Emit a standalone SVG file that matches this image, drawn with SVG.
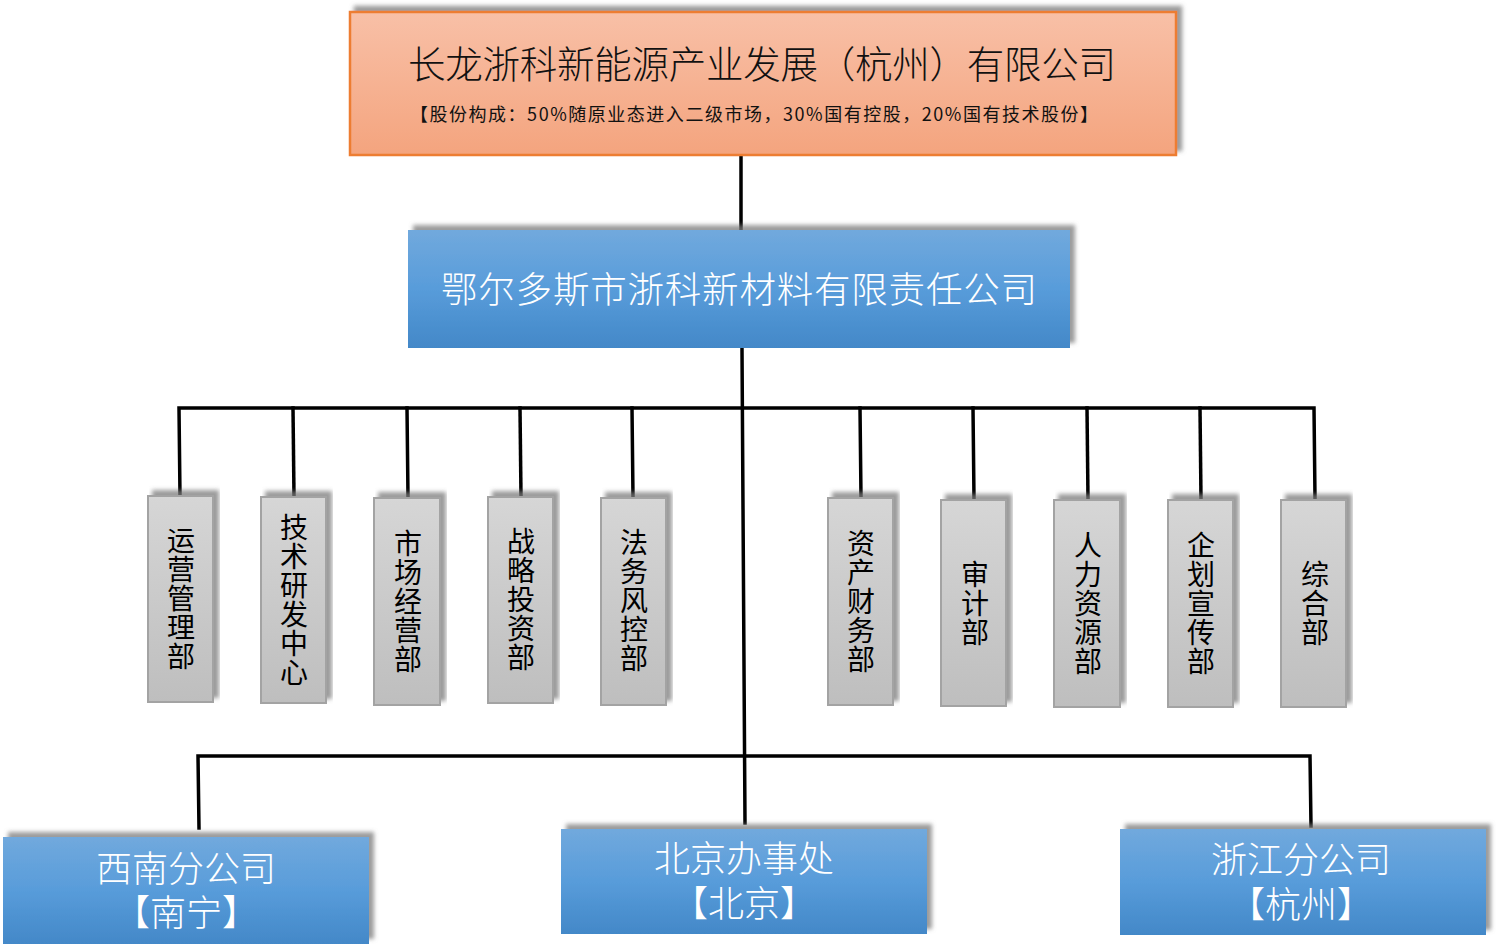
<svg xmlns="http://www.w3.org/2000/svg" width="1498" height="948" viewBox="0 0 1498 948">
<defs>
<linearGradient id="gOrange" x1="0" y1="0" x2="0" y2="1"><stop offset="0" stop-color="#F8C0A7"/><stop offset="1" stop-color="#F4A47E"/></linearGradient>
<linearGradient id="gBlue" x1="0" y1="0" x2="0" y2="1"><stop offset="0" stop-color="#71A9DD"/><stop offset="0.5" stop-color="#589CDA"/><stop offset="1" stop-color="#4388C8"/></linearGradient>
<linearGradient id="gGray" x1="0" y1="0" x2="0" y2="1"><stop offset="0" stop-color="#D6D6D6"/><stop offset="1" stop-color="#BEBEBE"/></linearGradient>
<filter id="sh" x="-5%" y="-10%" width="115%" height="125%">
<feGaussianBlur in="SourceAlpha" stdDeviation="2"/>
<feOffset dx="5" dy="-5" result="o"/>
<feFlood flood-color="#7a7a7a" flood-opacity="0.75"/>
<feComposite in2="o" operator="in"/>
<feMerge><feMergeNode/><feMergeNode in="SourceGraphic"/></feMerge>
</filter>
</defs>
<style>
.cn{fill:none;stroke:#000;stroke-width:3.5;stroke-linecap:square}
.dept{fill:url(#gGray);stroke:#A3A3A3;stroke-width:2}
.blue{fill:url(#gBlue)}
.dt{font-family:"Noto Sans CJK SC","Noto Sans",sans-serif;font-size:28px;fill:#000;text-anchor:middle;writing-mode:vertical-rl;letter-spacing:1px}
.wt{font-family:"Noto Sans CJK SC","Noto Sans",sans-serif;font-weight:300;fill:#fff;text-anchor:middle}
</style>
<rect width="1498" height="948" fill="#fff"/>
<g id="connectors">
<line class="cn" x1="741" y1="156" x2="741" y2="229"/>
<line class="cn" x1="742" y1="349" x2="745" y2="823"/>
<polyline class="cn" points="180,496 179,408 1314,408 1315,498"/>
<line class="cn" x1="293" y1="408" x2="294" y2="496"/>
<line class="cn" x1="407" y1="408" x2="408" y2="497"/>
<line class="cn" x1="520" y1="408" x2="521" y2="496"/>
<line class="cn" x1="632" y1="408" x2="633" y2="497"/>
<line class="cn" x1="860" y1="408" x2="861" y2="497"/>
<line class="cn" x1="973" y1="408" x2="974" y2="499"/>
<line class="cn" x1="1087" y1="408" x2="1088" y2="499"/>
<line class="cn" x1="1200" y1="408" x2="1201" y2="499"/>
<polyline class="cn" points="199,828 198,756 1310,756 1311,826"/>
</g>
<g id="top">
<rect x="350" y="12" width="826" height="143" fill="url(#gOrange)" stroke="#ED7D31" stroke-width="2.5" filter="url(#sh)"/>
<text x="762" y="78" font-family="'Noto Sans CJK SC',sans-serif" font-weight="300" font-size="37.5" fill="#111" text-anchor="middle" textLength="708" lengthAdjust="spacing">长龙浙科新能源产业发展（杭州）有限公司</text>
<text x="754" y="121" font-family="'Noto Sans CJK SC',sans-serif" font-size="18" fill="#111" text-anchor="middle" textLength="688" lengthAdjust="spacing">【股份构成：50%随原业态进入二级市场，30%国有控股，20%国有技术股份】</text>
</g>
<g id="company">
<rect class="blue" x="408" y="230" width="662" height="118" filter="url(#sh)"/>
<text class="wt" x="739" y="303" font-size="36.5" textLength="596" lengthAdjust="spacing">鄂尔多斯市浙科新材料有限责任公司</text>
</g>
<g id="d1"><rect class="dept" x="148" y="496" width="65" height="206" filter="url(#sh)"/><text class="dt" x="181" y="599">运营管理部</text></g>
<g id="d2"><rect class="dept" x="261" y="497" width="65" height="206" filter="url(#sh)"/><text class="dt" x="294" y="600">技术研发中心</text></g>
<g id="d3"><rect class="dept" x="374" y="498" width="66" height="207" filter="url(#sh)"/><text class="dt" x="408" y="601.5">市场经营部</text></g>
<g id="d4"><rect class="dept" x="488" y="497" width="65" height="206" filter="url(#sh)"/><text class="dt" x="521" y="600">战略投资部</text></g>
<g id="d5"><rect class="dept" x="601" y="498" width="65" height="207" filter="url(#sh)"/><text class="dt" x="634" y="601">法务风控部</text></g>
<g id="d6"><rect class="dept" x="828" y="498" width="65" height="207" filter="url(#sh)"/><text class="dt" x="861" y="601.5">资产财务部</text></g>
<g id="d7"><rect class="dept" x="941" y="500" width="65" height="206" filter="url(#sh)"/><text class="dt" x="975" y="604">审计部</text></g>
<g id="d8"><rect class="dept" x="1054" y="500" width="66" height="207" filter="url(#sh)"/><text class="dt" x="1088" y="603.5">人力资源部</text></g>
<g id="d9"><rect class="dept" x="1168" y="500" width="65" height="207" filter="url(#sh)"/><text class="dt" x="1201" y="603.5">企划宣传部</text></g>
<g id="d10"><rect class="dept" x="1281" y="500" width="65" height="207" filter="url(#sh)"/><text class="dt" x="1315" y="604">综合部</text></g>
<g id="b1"><rect class="blue" x="3" y="837" width="366" height="107" filter="url(#sh)"/><text class="wt" font-size="36"><tspan x="186" y="882">西南分公司</tspan><tspan x="186" y="926">【南宁】</tspan></text></g>
<g id="b2"><rect class="blue" x="561" y="829" width="366" height="105" filter="url(#sh)"/><text class="wt" font-size="36"><tspan x="744" y="872">北京办事处</tspan><tspan x="744" y="917">【北京】</tspan></text></g>
<g id="b3"><rect class="blue" x="1120" y="829" width="366" height="106" filter="url(#sh)"/><text class="wt" font-size="36"><tspan x="1301" y="873">浙江分公司</tspan><tspan x="1301" y="918">【杭州】</tspan></text></g>
</svg>
